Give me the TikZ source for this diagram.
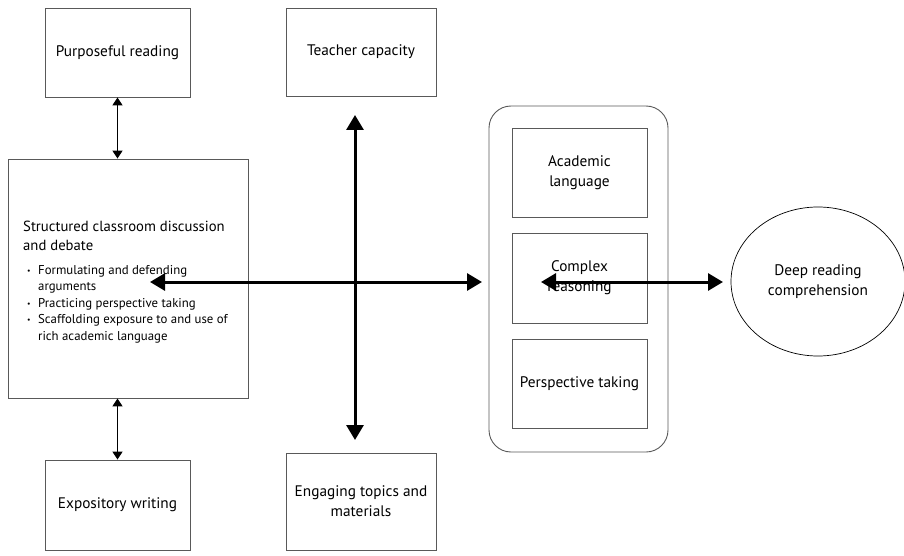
\documentclass[tikz,border=0pt]{standalone}
\usepackage{fontspec}
\setmainfont{PT Sans}
\usetikzlibrary{arrows.meta,shapes.geometric}
\begin{document}
\begin{tikzpicture}[x=1pt,y=-1pt,
  box/.style={draw=black!65,line width=0.9pt,minimum width=#1,inner sep=0pt,align=center,font=\fontsize{15.3}{20}\selectfont},
  thin arrow/.style={line width=1.5pt,{Triangle[width=10pt,length=8pt]}-{Triangle[width=10pt,length=8pt]}},
  thick arrow/.style={line width=3pt,{Triangle[width=17pt,length=15pt]}-{Triangle[width=17pt,length=15pt]}}]
\useasboundingbox (0,0) rectangle (904,556);
% top/bottom left boxes
\node[box=145pt,minimum height=89pt] (pr) at (117.5,52.5) {Purposeful reading};
\node[box=150pt,minimum height=88pt] (tc) at (361,52) {Teacher capacity};
\node[box=240pt,minimum height=239pt] (sc) at (128,278.5) {};
\node[anchor=base west,inner sep=0pt,font=\fontsize{14.7}{19}\selectfont] (sch) at (23,231.5)
  {\begin{tabular}[t]{@{}l@{}}Structured classroom discussion\\ and debate\end{tabular}};
\node[anchor=base west,inner sep=0pt,font=\fontsize{12.8}{16.6}\selectfont] (scb) at (27,274)
  {\begin{tabular}[t]{@{}l@{\hspace{7.5pt}}l@{}}
\raisebox{1pt}{\scalebox{0.6}{\textbullet}} & Formulating and defending\\
 & arguments\\
\raisebox{1pt}{\scalebox{0.6}{\textbullet}} & Practicing perspective taking\\
\raisebox{1pt}{\scalebox{0.6}{\textbullet}} & Scaffolding exposure to and use of\\
 & rich academic language
\end{tabular}};
\node[box=145pt,minimum height=90pt] (ew) at (117.5,505) {Expository writing};
\node[box=150pt,minimum height=97pt] (et) at (361,501.5) {Engaging topics and\\materials};
% rounded group
\node[draw=black!65,line width=0.9pt,rounded corners=22pt,minimum width=179pt,minimum height=346pt,inner sep=0pt] (grp) at (578.5,279) {};
\node[box=135pt,minimum height=89pt] (al) at (579.5,172.5) {Academic\\language};
\node[box=135pt,minimum height=90pt] (cr) at (579.5,278) {Complex\\reasoning};
\node[box=135pt,minimum height=89pt] (pt) at (579.5,383.5) {Perspective taking};
% ellipse
\node[draw=black,line width=0.7pt,ellipse,minimum width=174pt,minimum height=149pt,inner sep=0pt,align=center,font=\fontsize{15.3}{20}\selectfont] (dr) at (818,281.5) {Deep reading\\comprehension};
% coordinates for free arrow ends
\coordinate (vt) at (355,115);
\coordinate (vb) at (355,440);
\coordinate (hl) at (150,282);
\coordinate (hr) at (482,282);
\coordinate (cl) at (541,282);
\coordinate (cr2) at (723,282);
% arrows
\draw[thin arrow] (pr.south) -- (pr.south |- sc.north);
\draw[thin arrow] (ew.north |- sc.south) -- (ew.north);
\draw[thick arrow] (vt) -- (vb);
\draw[thick arrow] (hl) -- (hr);
\draw[thick arrow] (cl) -- (cr2);
\end{tikzpicture}
\end{document}
